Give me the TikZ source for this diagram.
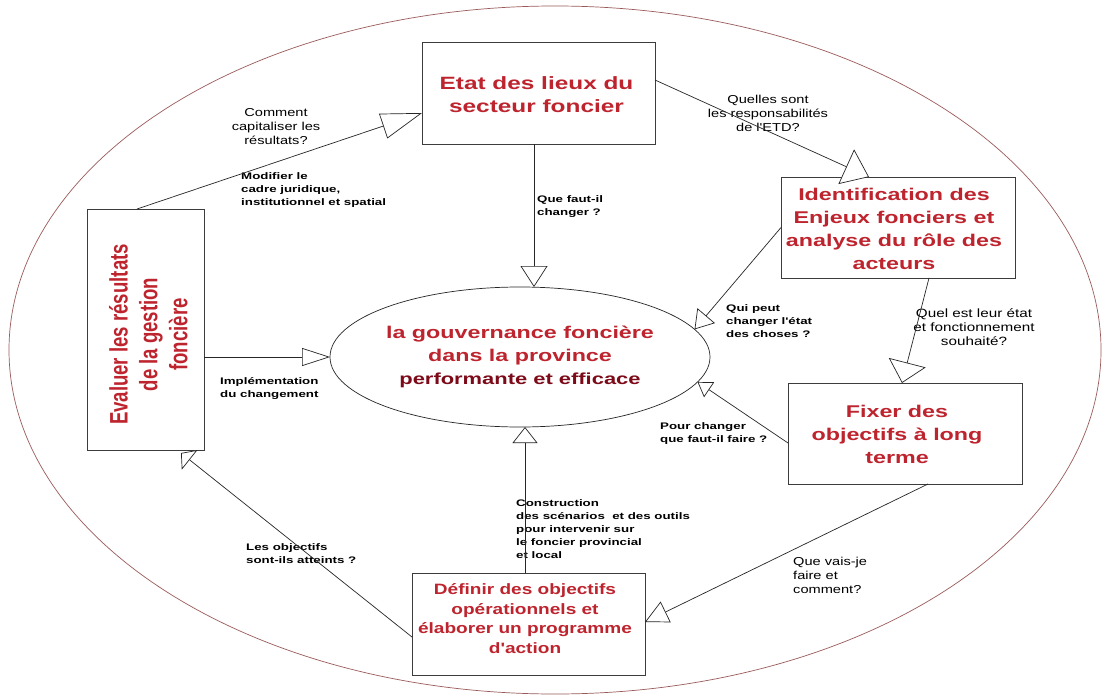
\documentclass[tikz,border=0pt]{standalone}
\usepackage{fontspec}
\setmainfont{Liberation Sans}
\newfontfamily\wideA[FakeStretch=1.37]{Liberation Sans}
\newfontfamily\wideB[FakeStretch=1.27]{Liberation Sans}
\newfontfamily\wideC[FakeStretch=1.40]{Liberation Sans}
\usetikzlibrary{arrows.meta,shapes.geometric}
\definecolor{titlered}{RGB}{190,36,46}
\definecolor{darkred}{RGB}{125,10,25}
\definecolor{rimcol}{RGB}{155,90,90}
\definecolor{boxline}{RGB}{60,60,60}
% shift a block of text inside its box: #1 = twice the horizontal shift, #2 = vertical raise
\newcommand\movetext[3]{\hspace*{#1}\raisebox{#2}[\height][\depth]{#3}}
\begin{document}
\begin{tikzpicture}[x=1pt,y=-1pt,
 box/.style={draw=boxline, line width=0.8pt, inner sep=0pt, outer sep=0pt, align=center, text=titlered},
 lbold/.style={inner sep=0pt, align=left, font=\wideC\bfseries\fontsize{9.5}{13}\selectfont},
 lreg/.style={inner sep=0pt, font=\wideB\fontsize{11.5}{14}\selectfont},
 conn/.style={draw=black!85, line width=0.7pt},
 opentri/.style 2 args={-{Triangle[length=#1,width=#2,fill=white]}}
]
\fill[white] (0,0) rectangle (1102,695);
\useasboundingbox (0,0) rectangle (1102,695);

% outer frame ellipse
\draw[rimcol, line width=0.7pt] (555,350) ellipse [x radius=546, y radius=344];

% boxes
\node[box, minimum width=233pt, minimum height=102pt,
      font=\wideA\bfseries\fontsize{17.8}{23}\selectfont] (etat) at (538.5,93)
  {\movetext{-4pt}{-3.5pt}{\begin{tabular}{@{}c@{}}Etat des lieux du\\secteur foncier\end{tabular}}};
\node[box, minimum width=234pt, minimum height=101pt,
      font=\wideA\bfseries\fontsize{17}{23}\selectfont] (ident) at (898,227.5)
  {\movetext{-8pt}{-3pt}{\begin{tabular}{@{}c@{}}Identification des\\Enjeux fonciers et\\analyse du rôle des\\acteurs\end{tabular}}};
\node[box, minimum width=234pt, minimum height=101pt,
      font=\wideA\bfseries\fontsize{17}{23}\selectfont] (fixer) at (905,433.5)
  {\movetext{-16pt}{-2pt}{\begin{tabular}{@{}c@{}}Fixer des\\objectifs à long\\terme\end{tabular}}};
\node[box, minimum width=233pt, minimum height=102pt,
      font=\wideB\bfseries\fontsize{15}{19.5}\selectfont] (definir) at (528.5,624)
  {\movetext{-7pt}{4pt}{\begin{tabular}{@{}c@{}}Définir des objectifs\\opérationnels et\\élaborer un programme\\d'action\end{tabular}}};
\node[box, minimum width=117pt, minimum height=241pt] (evaluer) at (145.5,329.5)
  {\movetext{12pt}{-5pt}{\rotatebox{90}{\scalebox{1}[1.36]{\fontsize{18.6}{22}\selectfont\bfseries
   \begin{tabular}{@{}c@{}}Evaluer les résultats\\de la gestion\\foncière\end{tabular}}}}};

% central ellipse
\node[ellipse, draw=black!85, line width=0.7pt, minimum width=380pt, minimum height=140pt,
      inner sep=0pt, outer sep=0pt, align=center, text=titlered,
      font=\wideA\bfseries\fontsize{17}{23}\selectfont] (gouv) at (520,357)
  {la gouvernance foncière\\dans la province\\{\fontsize{16}{23}\selectfont\color{darkred}performante et efficace}};

% labels
\node[lreg, align=center] (l1) at (276,127) {Comment\\capitaliser les\\résultats?};
\node[lbold, anchor=west] (l2) at (241,190) {Modifier le\\cadre juridique,\\institutionnel et spatial};
\node[lbold, anchor=west] (l3) at (537,206.5) {Que faut-il\\changer ?};
\node[lreg, align=center] (l4) at (768,113) {Quelles sont\\les responsabilités\\de l'ETD?};
\node[lbold, anchor=west] (l5) at (726,321) {Qui peut\\changer l'état\\des choses ?};
\node[lreg, align=center, font=\wideB\fontsize{12}{14}\selectfont] (l6) at (974,327) {Quel est leur état\\et fonctionnement\\souhaité?};
\node[lbold, anchor=west] (l7) at (220,389) {Implémentation\\du changement};
\node[lbold, anchor=west] (l8) at (660,433.5) {Pour changer\\que faut-il faire ?};
\node[lbold, anchor=west] (l9) at (516,529) {Construction\\des scénarios~ et des outils\\pour intervenir sur\\le foncier provincial\\et local};
\node[lbold, anchor=west] (l10) at (246,553.5) {Les objectifs\\sont-ils atteints ?};
\node[lreg, align=left, anchor=west] (l11) at (793,575) {Que vais-je\\faire et\\comment?};

% connectors
\draw[conn, opentri={41pt}{26pt}] ([xshift=-8.5pt]evaluer.north) -- ([yshift=-20pt]etat.west);
\draw[conn, opentri={21pt}{27pt}] ([xshift=-4.5pt]etat.south) -- ([xshift=-4.5pt]etat.south |- gouv.north);
\draw[conn, opentri={25pt}{38pt}] ([yshift=13pt]etat.east) -- ([xshift=-29pt]ident.north);
\draw[conn, opentri={18pt}{23pt}] (ident.west) -- (gouv.9);
\draw[conn, opentri={21pt}{38pt}] ([xshift=31pt]ident.south) -- ([xshift=-3pt]fixer.north);
\draw[conn, opentri={14pt}{18pt}] ([yshift=-9.5pt]fixer.west) -- (gouv.-8);
\draw[conn, opentri={16pt}{25pt}] ([xshift=-3.5pt]definir.north) -- ([xshift=-3.5pt]definir.north |- gouv.south);
\draw[conn, opentri={23pt}{23pt}] ([xshift=23pt]fixer.south) -- ([yshift=2pt]definir.east);
\draw[conn, opentri={11pt}{25pt}] ([yshift=-13pt]definir.west) -- ([xshift=35.5pt,yshift=-3pt]evaluer.south);
\draw[conn, opentri={28pt}{18pt}] (evaluer.east |- gouv.west) -- (gouv.west);
\end{tikzpicture}
\end{document}
